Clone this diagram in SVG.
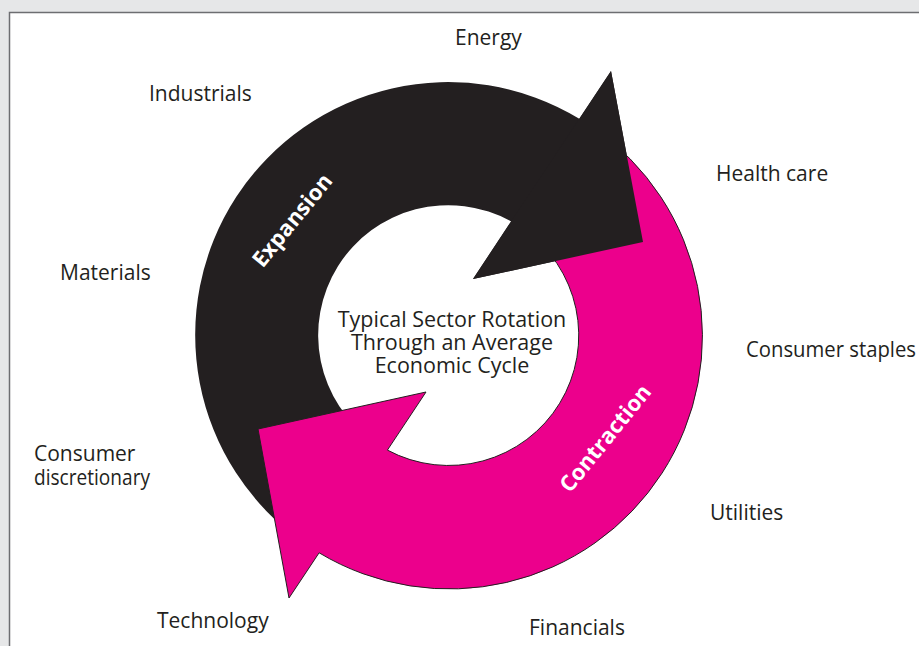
<svg xmlns="http://www.w3.org/2000/svg" width="919" height="646" viewBox="0 0 919 646">
<style>
.lbl{font-family:"Open Sans","Noto Sans","Liberation Sans",sans-serif;font-size:21px;fill:#231f20}
.ctr{text-anchor:middle;font-size:21.5px}
.arrowlbl{font-family:"Open Sans","Noto Sans","Liberation Sans",sans-serif;font-size:22px;font-weight:bold;fill:#ffffff;text-anchor:middle}
.black{fill:#231f20}
</style>
<rect x="0" y="0" width="919" height="646" fill="#e6e7e8"/>
<rect x="9.5" y="12.5" width="920" height="640" fill="#ffffff" stroke="#6d6e71" stroke-width="1.5"/>
<g id="connectors">
<g id="expansion-arrow">
<path class="black" d="M302.9,542.2 A253,253 0 0 1 579.3,118.7 L611,71 L643,242 L473,279 L511.1,221.4 A130,130 0 0 0 373.4,441.5 Z"/>
</g>
<g id="contraction-arrow">
<path d="M593.1,127.7 A253,253 0 0 1 319.1,552.8 L289,598 L258,429 L426,392 L387.4,450.1 A130,130 0 0 0 522.6,228.5 Z" fill="#ec008c" stroke="#231f20" stroke-width="1"/>
<text class="arrowlbl" transform="translate(605,438) rotate(-51)" y="8">Contraction</text>
</g>
<g id="expansion-head">
<path class="black" d="M579.3,118.7 L611,71 L643,242 L473,279 L511.1,221.4 Z"/>
<text class="arrowlbl" transform="translate(292,220) rotate(-51)" y="8">Expansion</text>
</g>
</g>
<g id="center">
<text class="lbl ctr" x="452" y="327">Typical Sector Rotation</text>
<text class="lbl ctr" x="452" y="350">Through an Average</text>
<text class="lbl ctr" x="452" y="373">Economic Cycle</text>
</g>
<g id="energy"><text class="lbl" x="455" y="45">Energy</text></g>
<g id="industrials"><text class="lbl" x="149" y="101">Industrials</text></g>
<g id="health-care"><text class="lbl" x="716" y="181">Health care</text></g>
<g id="materials"><text class="lbl" x="60" y="280">Materials</text></g>
<g id="consumer-staples"><text class="lbl" x="746" y="357" textLength="170" lengthAdjust="spacingAndGlyphs">Consumer staples</text></g>
<g id="consumer-discretionary"><text class="lbl" x="34" y="461">Consumer</text><text class="lbl" x="34" y="485" textLength="116" lengthAdjust="spacingAndGlyphs">discretionary</text></g>
<g id="utilities"><text class="lbl" x="710" y="520">Utilities</text></g>
<g id="technology"><text class="lbl" x="157" y="628">Technology</text></g>
<g id="financials"><text class="lbl" x="529" y="635">Financials</text></g>
</svg>
